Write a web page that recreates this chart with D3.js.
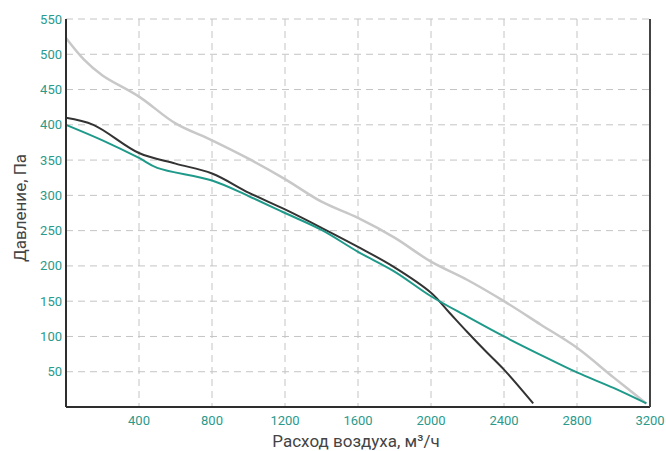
<!DOCTYPE html>
<html>
<head>
<meta charset="utf-8">
<script src="https://cdn.jsdelivr.net/npm/d3@7"></script>
<style>
  body { margin: 0; background: #fff; }
  .tick-label { font-family: Roboto, "Noto Sans", sans-serif; font-size: 13px; fill: #2a9a8c; }
  .axis-label { font-family: Roboto, "Noto Sans", sans-serif; font-size: 17px; fill: #444; }
</style>
</head>
<body>
<div id="chart"></div>
<script>
// Air flow, m3/h and pressure, Pa for the three curves
const grayFlow = [0, 100, 200, 400, 600, 800, 1000, 1200, 1400, 1600, 1800, 2000, 2200, 2400, 2600, 2800, 3000, 3180];
const grayPressure = [523, 492, 470, 440, 402, 378, 352, 323, 291, 268, 240, 206, 180, 150, 117, 84, 42, 5];

const blackFlow = [0, 150, 400, 600, 800, 1000, 1200, 1400, 1600, 1800, 2000, 2100, 2200, 2300, 2400, 2560];
const blackPressure = [410, 400, 360, 345, 331, 304, 280, 254, 227, 198, 162, 134, 106, 79, 53, 5];

const tealFlow = [0, 200, 400, 500, 800, 1000, 1200, 1400, 1600, 1800, 2000, 2200, 2400, 2600, 2800, 3000, 3180];
const tealPressure = [400, 378, 353, 339, 321, 299, 275, 251, 220, 192, 157, 128, 100, 74, 49, 27, 5];

const xTicks = [400, 800, 1200, 1600, 2000, 2400, 2800, 3200];
const yTicks = [50, 100, 150, 200, 250, 300, 350, 400, 450, 500, 550];

(() => {
    const width = 666;
    const height = 451;
    const margin = {top: 19, right: 16, bottom: 44, left: 66};
    const innerWidth = width - margin.left - margin.right;
    const innerHeight = height - margin.top - margin.bottom;

    const svg = d3.select("#chart")
        .append("svg")
        .attr("width", width)
        .attr("height", height)
        .append("g")
        .attr("transform", `translate(${margin.left}, ${margin.top})`);

    const x = d3.scaleLinear().domain([0, 3200]).range([0, innerWidth]);
    const y = d3.scaleLinear().domain([0, 550]).range([innerHeight, 0]);

    // Dashed grid
    svg.append("g").selectAll("line").data(xTicks.filter(d => d < 3200)).enter()
        .append("line")
        .attr("x1", d => x(d)).attr("x2", d => x(d))
        .attr("y1", 0).attr("y2", innerHeight)
        .attr("stroke", "#c4c4c4").attr("stroke-width", 1)
        .attr("stroke-dasharray", "7,5");
    svg.append("g").selectAll("line").data(yTicks).enter()
        .append("line")
        .attr("x1", 0).attr("x2", innerWidth)
        .attr("y1", d => y(d)).attr("y2", d => y(d))
        .attr("stroke", "#c4c4c4").attr("stroke-width", 1)
        .attr("stroke-dasharray", "7,5");

    // Tick labels
    svg.append("g").selectAll("text").data(yTicks).enter()
        .append("text")
        .classed("tick-label", true)
        .attr("x", -4)
        .attr("y", d => y(d) + 4.5)
        .style("text-anchor", "end")
        .text(d => d);
    svg.append("g").selectAll("text").data(xTicks).enter()
        .append("text")
        .classed("tick-label", true)
        .attr("x", d => x(d))
        .attr("y", innerHeight + 18)
        .style("text-anchor", "middle")
        .text(d => d);

    // Curves
    const line = d3.line()
        .x(d => x(d[0]))
        .y(d => y(d[1]))
        .curve(d3.curveCatmullRom.alpha(0.5));
    const curves = [
        {flow: grayFlow, pressure: grayPressure, color: "#c8c8c8", w: 2.5},
        {flow: blackFlow, pressure: blackPressure, color: "#333333", w: 2},
        {flow: tealFlow, pressure: tealPressure, color: "#1f9a8a", w: 2}
    ];
    curves.forEach(c => {
        svg.append("path")
            .datum(d3.zip(c.flow, c.pressure))
            .attr("fill", "none")
            .attr("stroke", c.color)
            .attr("stroke-width", c.w)
            .attr("d", line);
    });

    // Frame: left, bottom, right
    svg.append("line").attr("x1", 0).attr("x2", 0).attr("y1", 0).attr("y2", innerHeight)
        .attr("stroke", "#2e2e2e").attr("stroke-width", 2);
    svg.append("line").attr("x1", 0).attr("x2", innerWidth).attr("y1", innerHeight).attr("y2", innerHeight)
        .attr("stroke", "#2e2e2e").attr("stroke-width", 2);
    svg.append("line").attr("x1", innerWidth).attr("x2", innerWidth).attr("y1", 0).attr("y2", innerHeight)
        .attr("stroke", "#444").attr("stroke-width", 2);

    // Axis titles
    svg.append("text")
        .text("Расход воздуха, м³/ч")
        .classed("axis-label", true)
        .style("text-anchor", "middle")
        .attr("transform", `translate(${innerWidth / 2 - 2}, ${innerHeight + 40})`);
    svg.append("text")
        .text("Давление, Па")
        .classed("axis-label", true)
        .style("text-anchor", "middle")
        .attr("transform", `translate(${-40}, ${189}) rotate(-90)`);
})()
</script>
</body>
</html>
